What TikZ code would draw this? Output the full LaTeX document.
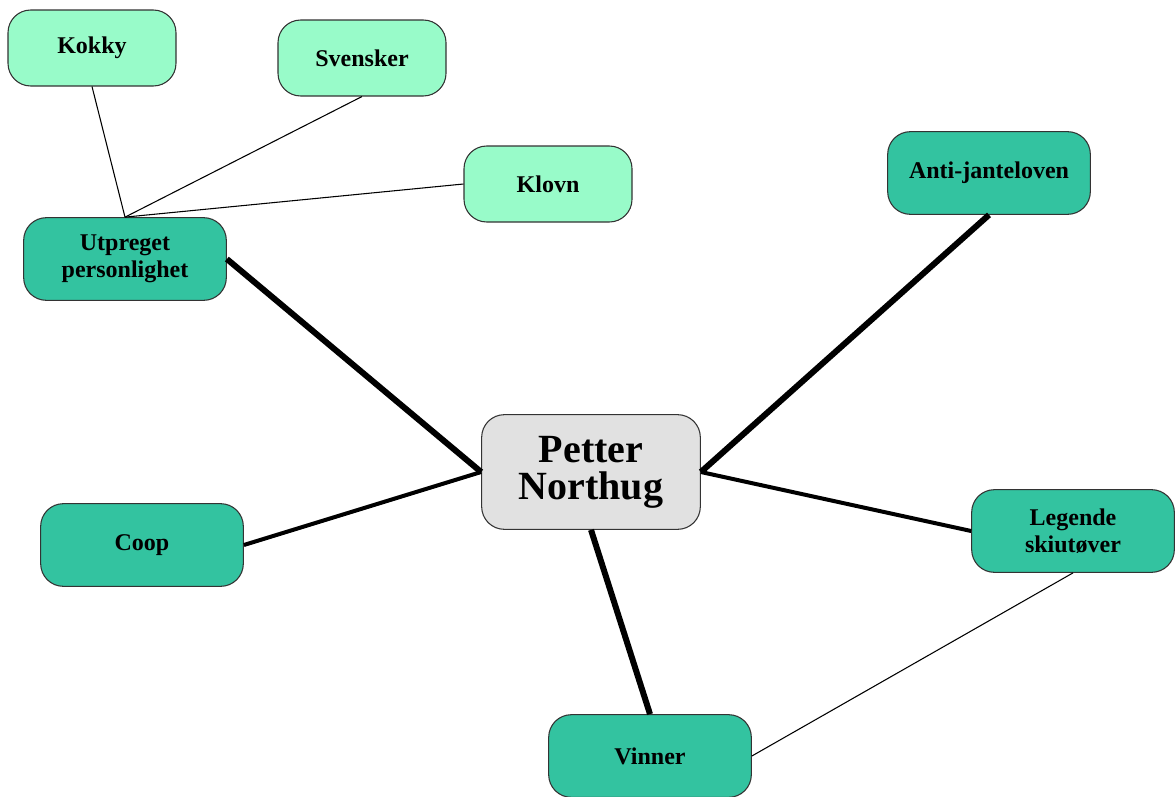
\documentclass[tikz,border=0pt]{standalone}
\usepackage{fontspec}
\setmainfont{Liberation Serif}
\usepackage{tikz}
\usetikzlibrary{
    positioning
}
\definecolor{mint}{RGB}{152,251,201}
\definecolor{teal}{RGB}{51,195,160}
\definecolor{lightgray}{RGB}{225,225,225}
\tikzset{
    topic/.style={
        draw=black!80,
        line width=0.8pt,
        rounded corners=17pt,
        align=center,
        font=\bfseries\fontsize{18}{20}\selectfont,
        minimum width=152pt,
        minimum height=62pt,
        fill=teal
    },
    subtopic/.style={
        topic,
        minimum width=126pt,
        minimum height=57pt,
        fill=mint
    },
    hub/.style={
        topic,
        font=\bfseries\fontsize{30}{28}\selectfont,
        minimum width=164pt,
        minimum height=86pt,
        fill=lightgray
    },
    thin/.style={line width=0.8pt},
    medium/.style={line width=3pt},
    heavy/.style={line width=4.5pt}
}

\begin{document}
\begin{tikzpicture}[
    x=0.75pt,
    y=-0.75pt
]
    \useasboundingbox (0,0) rectangle (1176,796);

    % Noder
    \node[hub]      (petter)  at (591,472)  {Petter\\Northug};
    \node[topic]    (utpreg)  at (125,259)  {Utpreget\\personlighet};
    \node[topic]    (anti)    at (989,173)  {Anti-janteloven};
    \node[topic]    (coop)    at (142,545)  {Coop};
    \node[topic]    (legende) at (1073,531) {Legende\\skiutøver};
    \node[topic]    (vinner)  at (650,756)  {Vinner};
    \node[subtopic] (kokky)   at (92,48)    {Kokky};
    \node[subtopic] (svensk)  at (362,58)   {Svensker};
    \node[subtopic] (klovn)   at (548,184)  {Klovn};

    % Forbindelser
    \draw[heavy]  (utpreg.east)   -- (petter.west);
    \draw[heavy]  (anti.south)    -- (petter.east);
    \draw[medium] (coop.east)     -- (petter.west);
    \draw[medium] (petter.east)   -- (legende.west);
    \draw[heavy]  (petter.south)  -- (vinner.north);

    \draw[thin] (kokky.south)   -- (utpreg.north);
    \draw[thin] (svensk.south)  -- (utpreg.north);
    \draw[thin] (klovn.west)    -- (utpreg.north);
    \draw[thin] (legende.south) -- (vinner.east);

\end{tikzpicture}
\end{document}
